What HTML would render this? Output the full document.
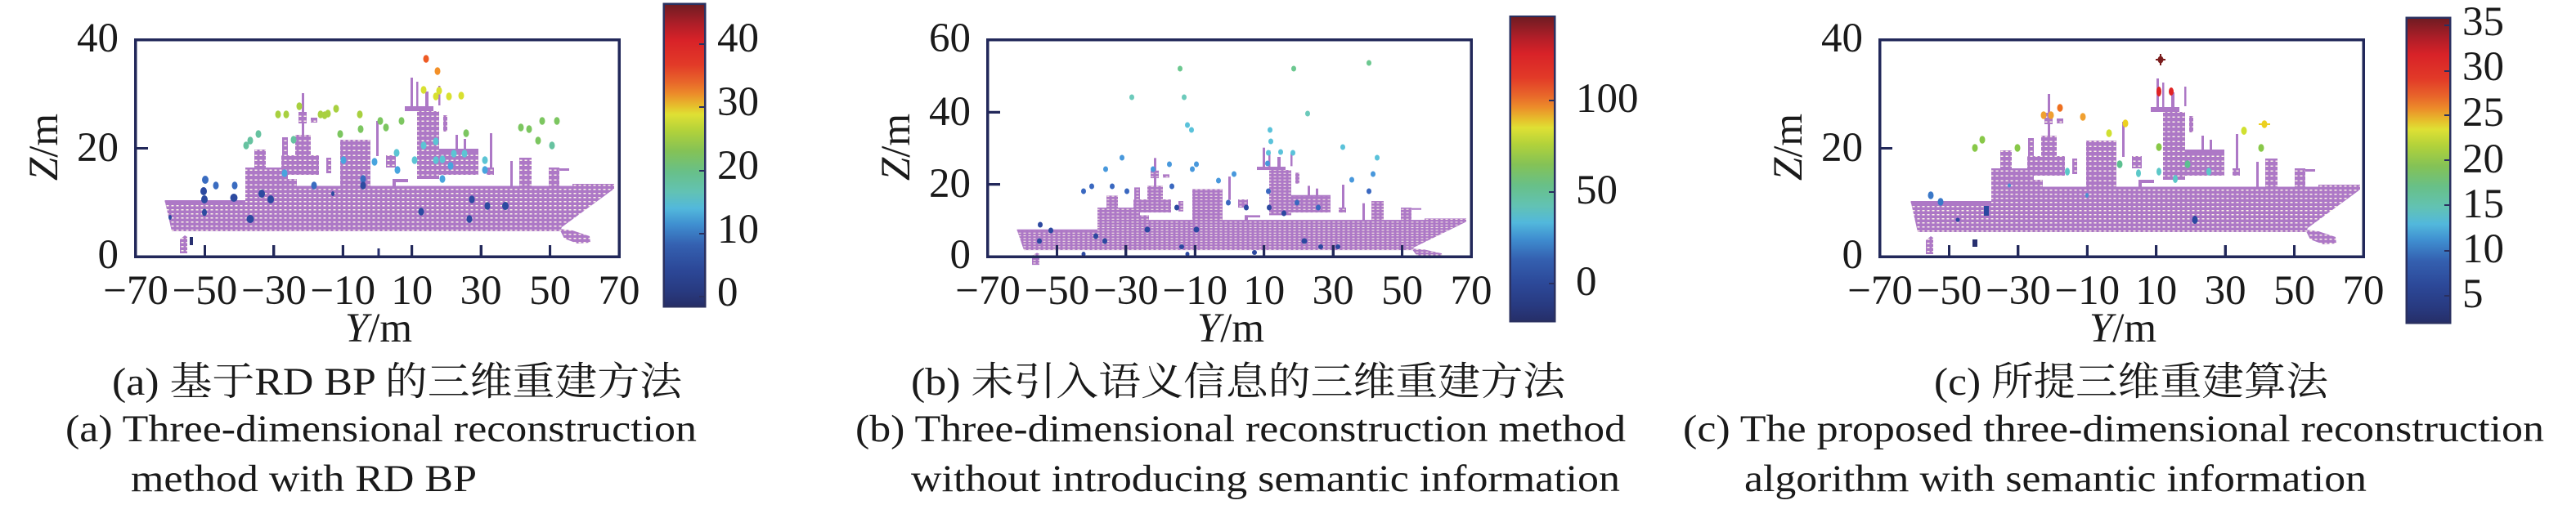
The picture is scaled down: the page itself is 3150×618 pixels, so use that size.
<!DOCTYPE html>
<html><head><meta charset="utf-8"><style>
html,body{margin:0;padding:0;background:#fff;width:3150px;height:618px;overflow:hidden}
body{position:relative}
svg{display:block;position:absolute;left:0;top:0}
.k{position:absolute;background:#22285a}
.fr{position:absolute;border:3px solid #22285a;box-sizing:border-box;background:transparent}
.cb{position:absolute;border:2px solid #2a3060;box-sizing:border-box}
</style></head><body>
<svg width="3150" height="618" viewBox="0 0 3150 618" xmlns="http://www.w3.org/2000/svg" font-family="'Liberation Serif','Noto Serif CJK SC',serif" fill="#1a1a1a">
<defs>
<pattern id="hatch" width="6" height="5" patternUnits="userSpaceOnUse"><rect width="6" height="5" fill="#ad78c6"/><rect x="1.5" y="2" width="3" height="1.5" fill="#fcf5e6"/></pattern>
<pattern id="hatch2" width="6" height="6" patternUnits="userSpaceOnUse"><rect width="6" height="6" fill="#ad78c6"/><rect x="1.5" y="2.5" width="3" height="1.5" fill="#fcf5e6"/></pattern>
<linearGradient id="cmap" x1="0" y1="0" x2="0" y2="1">
<stop offset="0" stop-color="#6e1c22"/><stop offset="0.068" stop-color="#b01e28"/><stop offset="0.12" stop-color="#d82228"/><stop offset="0.2" stop-color="#e23a28"/><stop offset="0.257" stop-color="#e8652a"/><stop offset="0.297" stop-color="#ec8c2a"/><stop offset="0.338" stop-color="#e6c02c"/><stop offset="0.365" stop-color="#dfe034"/><stop offset="0.419" stop-color="#b2d23a"/><stop offset="0.486" stop-color="#84c256"/><stop offset="0.554" stop-color="#68c088"/><stop offset="0.622" stop-color="#62c2b4"/><stop offset="0.676" stop-color="#52b8dc"/><stop offset="0.73" stop-color="#3f8ed0"/><stop offset="0.797" stop-color="#3460b0"/><stop offset="0.878" stop-color="#2c4898"/><stop offset="0.95" stop-color="#283a80"/><stop offset="1" stop-color="#262e68"/>
</linearGradient>
<g id="ship">
<polygon points="35.6,197 134,197 134,180 534,180 534,176 585,176 585,182 521,229 519,234 44,234" fill="url(#hatch)"/>
<rect x="35.6" y="196" width="98.4" height="2.5" fill="#ad78c6"/>
<rect x="134" y="178.5" width="451" height="2.5" fill="#ad78c6"/>
<polygon points="518,231 534,233 555,240 556,248 540,249 524,243" fill="url(#hatch)"/>
<polygon points="54,244 60,239 63,241 63,261 54,261" fill="url(#hatch)"/>
<rect x="134" y="156" width="52" height="24" fill="url(#hatch2)"/>
<rect x="186" y="170" width="11" height="10" fill="url(#hatch2)"/>
<rect x="145" y="134" width="14" height="22" fill="url(#hatch2)"/>
<rect x="178" y="141" width="46" height="24" fill="url(#hatch2)"/>
<rect x="179" y="119" width="7" height="22" fill="url(#hatch2)"/>
<rect x="195" y="116" width="19" height="25" fill="url(#hatch2)"/>
<rect x="203" y="65" width="3" height="54" fill="#ad78c6"/>
<rect x="199" y="88" width="10" height="14" fill="url(#hatch2)"/>
<rect x="214" y="95" width="8" height="6" fill="url(#hatch2)"/>
<rect x="233" y="144" width="6" height="19" fill="url(#hatch2)"/>
<rect x="250" y="122" width="37" height="58" fill="url(#hatch2)"/>
<rect x="294" y="99" width="3" height="43" fill="#ad78c6"/>
<rect x="306" y="141" width="12" height="15" fill="url(#hatch2)"/>
<rect x="314" y="170" width="19" height="4" fill="#ad78c6"/>
<rect x="314" y="170" width="4" height="10" fill="#ad78c6"/>
<rect x="344" y="87" width="27" height="83" fill="url(#hatch2)"/>
<rect x="329" y="81" width="35" height="6" fill="#ad78c6"/>
<rect x="336" y="46" width="3" height="39" fill="#ad78c6"/>
<rect x="343" y="51" width="2.5" height="34" fill="#ad78c6"/>
<rect x="354" y="63" width="4" height="19" fill="#ad78c6"/>
<rect x="370" y="56" width="2.5" height="24" fill="#ad78c6"/>
<rect x="376" y="92" width="5" height="20" fill="url(#hatch2)"/>
<rect x="371" y="134" width="48" height="31" fill="url(#hatch2)"/>
<rect x="371" y="133" width="48" height="3" fill="#ad78c6"/>
<rect x="391" y="116" width="3" height="20" fill="#ad78c6"/>
<rect x="401" y="121" width="3" height="15" fill="#ad78c6"/>
<rect x="433" y="114" width="3" height="51" fill="#ad78c6"/>
<rect x="429" y="156" width="9" height="9" fill="url(#hatch2)"/>
<rect x="458" y="148" width="3" height="32" fill="#ad78c6"/>
<rect x="469" y="144" width="15" height="36" fill="url(#hatch2)"/>
<rect x="505" y="156" width="13" height="24" fill="url(#hatch2)"/>
<rect x="518" y="157" width="12" height="3" fill="#ad78c6"/>
</g>
</defs>
<rect width="3150" height="618" fill="#fff"/>

<!-- PANEL A -->
<g transform="translate(166,49)">
<use href="#ship"/>
<ellipse cx="355" cy="23" rx="3.5" ry="4.8" fill="#ee5a24"/>
<ellipse cx="369" cy="38" rx="3.5" ry="4.8" fill="#f39028"/>
<g fill="#d8e030"><ellipse cx="352" cy="61" rx="3.5" ry="4.8"/><ellipse cx="371" cy="62" rx="3.5" ry="4.8"/><ellipse cx="367" cy="69" rx="3.5" ry="4.8"/><ellipse cx="383" cy="69" rx="3.5" ry="4.8"/><ellipse cx="398" cy="68" rx="3.5" ry="4.8"/></g>
<g fill="#a8d040"><ellipse cx="174" cy="91" rx="3.5" ry="4.8"/><ellipse cx="184" cy="91" rx="3.5" ry="4.8"/><ellipse cx="200" cy="81" rx="3.5" ry="4.8"/><ellipse cx="226" cy="91" rx="3.5" ry="4.8"/><ellipse cx="231" cy="92" rx="3.5" ry="4.8"/><ellipse cx="235" cy="90" rx="3.5" ry="4.8"/><ellipse cx="245" cy="84" rx="3.5" ry="4.8"/><ellipse cx="274" cy="91" rx="3.5" ry="4.8"/></g>
<g fill="#7cc660"><ellipse cx="275" cy="109" rx="3.5" ry="4.8"/><ellipse cx="299" cy="99" rx="3.5" ry="4.8"/><ellipse cx="306" cy="107" rx="3.5" ry="4.8"/><ellipse cx="325" cy="99" rx="3.5" ry="4.8"/><ellipse cx="250" cy="115" rx="3.5" ry="4.8"/><ellipse cx="471" cy="107" rx="3.5" ry="4.8"/><ellipse cx="481" cy="109" rx="3.5" ry="4.8"/><ellipse cx="497" cy="99" rx="3.5" ry="4.8"/><ellipse cx="515" cy="99" rx="3.5" ry="4.8"/><ellipse cx="492" cy="123" rx="3.5" ry="4.8"/><ellipse cx="404" cy="114" rx="3.5" ry="4.8"/></g>
<g fill="#66c2a0"><ellipse cx="135" cy="129" rx="3.5" ry="4.8"/><ellipse cx="140" cy="123" rx="3.5" ry="4.8"/><ellipse cx="150" cy="115" rx="3.5" ry="4.8"/><ellipse cx="193" cy="122" rx="3.5" ry="4.8"/><ellipse cx="509" cy="129" rx="3.5" ry="4.8"/></g>
<g fill="#5cc4d4"><ellipse cx="319" cy="138" rx="3.5" ry="4.8"/><ellipse cx="341" cy="147" rx="3.5" ry="4.8"/><ellipse cx="367" cy="147" rx="3.5" ry="4.8"/><ellipse cx="375" cy="146" rx="3.5" ry="4.8"/><ellipse cx="389" cy="139" rx="3.5" ry="4.8"/><ellipse cx="402" cy="139" rx="3.5" ry="4.8"/><ellipse cx="427" cy="147" rx="3.5" ry="4.8"/><ellipse cx="367" cy="124" rx="3.5" ry="4.8"/><ellipse cx="352" cy="129" rx="3.5" ry="4.8"/></g>
<g fill="#48a4de"><ellipse cx="254" cy="147" rx="3.5" ry="4.8"/><ellipse cx="292" cy="149" rx="3.5" ry="4.8"/><ellipse cx="182" cy="163" rx="3.5" ry="4.8"/><ellipse cx="385" cy="154" rx="3.5" ry="4.8"/><ellipse cx="320" cy="159" rx="3.5" ry="4.8"/><ellipse cx="427" cy="159" rx="3.5" ry="4.8"/><ellipse cx="375" cy="170" rx="3.5" ry="4.8"/></g>
<g fill="#3a6cc0"><ellipse cx="85" cy="171" rx="4" ry="5"/><ellipse cx="98" cy="178" rx="3.5" ry="4.8"/><ellipse cx="121" cy="178" rx="3.5" ry="4.8"/><ellipse cx="218" cy="178" rx="3.5" ry="4.8"/><ellipse cx="278" cy="170" rx="3.5" ry="4.8"/></g>
<g fill="#2c4aa0"><ellipse cx="83" cy="185" rx="4" ry="5"/><ellipse cx="84" cy="195" rx="4" ry="5"/><ellipse cx="120" cy="193" rx="4.5" ry="5"/><ellipse cx="154" cy="188" rx="4" ry="5"/><ellipse cx="165" cy="195" rx="4" ry="5"/><ellipse cx="278" cy="178" rx="3.5" ry="4.8"/><ellipse cx="241" cy="188" rx="2" ry="3"/><ellipse cx="411" cy="195" rx="3.5" ry="4.8"/><ellipse cx="430" cy="203" rx="3.5" ry="4.8"/><ellipse cx="452" cy="203" rx="4" ry="5"/><ellipse cx="349" cy="210" rx="3.5" ry="4.8"/><ellipse cx="408" cy="219" rx="3.5" ry="4.8"/><ellipse cx="140" cy="219" rx="4.5" ry="5"/><ellipse cx="84" cy="211" rx="3" ry="4.5"/><ellipse cx="42" cy="217" rx="2" ry="3"/></g>
<g fill="#283070"><rect x="295.5" y="255" width="3" height="10"/><rect x="66" y="241" width="4" height="10"/></g>
</g>
<g font-size="51" text-anchor="middle">
<text x="166" y="372">−70</text><text x="250.4" y="372">−50</text><text x="334.9" y="372">−30</text><text x="419.3" y="372">−10</text><text x="503.7" y="372">10</text><text x="588.1" y="372">30</text><text x="672.6" y="372">50</text><text x="757" y="372">70</text>
</g>
<g font-size="51" text-anchor="end">
<text x="145" y="328">0</text><text x="145" y="197">20</text><text x="145" y="63">40</text>
</g>
<text x="463" y="418" font-size="51" text-anchor="middle"><tspan font-style="italic">Y</tspan>/m</text>
<text transform="translate(70,180) rotate(-90)" font-size="51" text-anchor="middle"><tspan font-style="italic">Z</tspan>/m</text>
<rect x="812" y="5" width="50" height="370" fill="url(#cmap)"/>
<g font-size="51"><text x="877" y="63">40</text><text x="877" y="141">30</text><text x="877" y="219">20</text><text x="877" y="297">10</text><text x="877" y="374">0</text></g>
<text x="137" y="483" font-size="48" textLength="697" lengthAdjust="spacingAndGlyphs">(a) 基于RD BP 的三维重建方法</text>
<text x="80" y="540" font-size="47" textLength="772" lengthAdjust="spacingAndGlyphs">(a) Three-dimensional reconstruction</text>
<text x="160" y="601" font-size="47" textLength="423" lengthAdjust="spacingAndGlyphs">method with RD BP</text>

<!-- PANEL B -->
<g transform="translate(1208,49)">
<use href="#ship" transform="translate(0,101) scale(1,0.667)"/>
<g fill="#6cc890"><ellipse cx="235" cy="35" rx="3" ry="3.5"/><ellipse cx="374" cy="35" rx="3" ry="3.5"/><ellipse cx="466" cy="28" rx="3" ry="3.5"/></g>
<g fill="#6ccabb"><ellipse cx="176" cy="70" rx="3" ry="3.5"/><ellipse cx="240" cy="70" rx="3" ry="3.5"/><ellipse cx="391" cy="90" rx="3" ry="3.5"/></g>
<g fill="#5ac2da"><ellipse cx="244" cy="104" rx="3" ry="3.5"/><ellipse cx="249" cy="110" rx="3" ry="3.5"/><ellipse cx="345" cy="110" rx="3" ry="3.5"/><ellipse cx="346" cy="124" rx="3" ry="3.5"/><ellipse cx="434" cy="131" rx="3" ry="3.5"/><ellipse cx="476" cy="144" rx="3" ry="3.5"/><ellipse cx="343" cy="138" rx="3" ry="3.5"/><ellipse cx="358" cy="137" rx="3" ry="3.5"/><ellipse cx="373" cy="138" rx="3" ry="3.5"/></g>
<g fill="#4898dc"><ellipse cx="164" cy="144" rx="3" ry="3.5"/><ellipse cx="144" cy="158" rx="3" ry="3.5"/><ellipse cx="202" cy="158" rx="3" ry="3.5"/><ellipse cx="222" cy="152" rx="3" ry="3.5"/><ellipse cx="250" cy="158" rx="3" ry="3.5"/><ellipse cx="255" cy="152" rx="3" ry="3.5"/><ellipse cx="301" cy="164" rx="3" ry="3.5"/><ellipse cx="282" cy="172" rx="3" ry="3.5"/><ellipse cx="471" cy="164" rx="3" ry="3.5"/><ellipse cx="445" cy="171" rx="3" ry="3.5"/><ellipse cx="342" cy="151" rx="3" ry="3.5"/></g>
<g fill="#3a68c0"><ellipse cx="117" cy="185" rx="3" ry="3.5"/><ellipse cx="127" cy="179" rx="3" ry="3.5"/><ellipse cx="152" cy="179" rx="3" ry="3.5"/><ellipse cx="170" cy="185" rx="3" ry="3.5"/><ellipse cx="225" cy="179" rx="3" ry="3.5"/><ellipse cx="466" cy="185" rx="3" ry="3.5"/><ellipse cx="343" cy="185" rx="3" ry="3.5"/><ellipse cx="294" cy="199" rx="3" ry="3.5"/><ellipse cx="404" cy="205" rx="3" ry="3.5"/><ellipse cx="378" cy="199" rx="3" ry="3.5"/></g>
<g fill="#2c48a0"><ellipse cx="64" cy="226" rx="3" ry="3.5"/><ellipse cx="77" cy="233" rx="3" ry="3.5"/><ellipse cx="195" cy="232" rx="3.5" ry="3.5"/><ellipse cx="255" cy="232" rx="3.5" ry="3.5"/><ellipse cx="132" cy="240" rx="3" ry="3.5"/><ellipse cx="143" cy="246" rx="3" ry="3.5"/><ellipse cx="63" cy="246" rx="3" ry="3.5"/><ellipse cx="387" cy="246" rx="3.5" ry="3.5"/><ellipse cx="407" cy="253" rx="3" ry="3"/><ellipse cx="428" cy="253" rx="3" ry="3"/><ellipse cx="237" cy="253" rx="3" ry="3"/><ellipse cx="326" cy="260" rx="3" ry="3"/><ellipse cx="362" cy="212" rx="3" ry="3.5"/><ellipse cx="344" cy="205" rx="3" ry="3.5"/><ellipse cx="316" cy="205" rx="3" ry="3.5"/><ellipse cx="231" cy="205" rx="3" ry="3.5"/><ellipse cx="117" cy="262" rx="2.5" ry="3"/><ellipse cx="244" cy="262" rx="2.5" ry="3"/></g>
</g>
<g font-size="51" text-anchor="middle">
<text x="1208" y="372">−70</text><text x="1292.4" y="372">−50</text><text x="1376.9" y="372">−30</text><text x="1461.3" y="372">−10</text><text x="1545.7" y="372">10</text><text x="1630.1" y="372">30</text><text x="1714.6" y="372">50</text><text x="1799" y="372">70</text>
</g>
<g font-size="51" text-anchor="end">
<text x="1187" y="328">0</text><text x="1187" y="241">20</text><text x="1187" y="153">40</text><text x="1187" y="63">60</text>
</g>
<text x="1505" y="418" font-size="51" text-anchor="middle"><tspan font-style="italic">Y</tspan>/m</text>
<text transform="translate(1112,180) rotate(-90)" font-size="51" text-anchor="middle"><tspan font-style="italic">Z</tspan>/m</text>
<rect x="1847" y="20.5" width="54" height="372.5" fill="url(#cmap)"/>
<g font-size="51"><text x="1927" y="137">100</text><text x="1927" y="249">50</text><text x="1927" y="361">0</text></g>
<text x="1114" y="483" font-size="48" textLength="800" lengthAdjust="spacingAndGlyphs">(b) 未引入语义信息的三维重建方法</text>
<text x="1046" y="540" font-size="47" textLength="942" lengthAdjust="spacingAndGlyphs">(b) Three-dimensional reconstruction method</text>
<text x="1114" y="601" font-size="47" textLength="867" lengthAdjust="spacingAndGlyphs">without introducing semantic information</text>

<!-- PANEL C -->
<g transform="translate(2299,49)">
<use href="#ship" transform="translate(2,1)"/>
<g fill="#7a1c1c"><ellipse cx="343" cy="24" rx="3.5" ry="4.5"/><rect x="337" y="23" width="12" height="2"/><rect x="342" y="17" width="2" height="14"/></g>
<g fill="#e02424"><ellipse cx="341" cy="63" rx="3" ry="6"/><ellipse cx="356" cy="63" rx="3" ry="5"/></g>
<ellipse cx="220" cy="83" rx="3.5" ry="4.8" fill="#ee7020"/>
<g fill="#f0a030"><ellipse cx="200" cy="92" rx="3.5" ry="4.8"/><ellipse cx="209" cy="92" rx="3.5" ry="4.8"/><ellipse cx="248" cy="94" rx="3.5" ry="4.8"/></g>
<g fill="#ecd020"><ellipse cx="300" cy="102" rx="3.5" ry="4.8"/><ellipse cx="470" cy="103" rx="3.5" ry="4.8"/><rect x="463" y="102" width="14" height="2"/></g>
<g fill="#d0e030"><ellipse cx="280" cy="114" rx="3.5" ry="4.8"/><ellipse cx="445" cy="111" rx="3.5" ry="5"/></g>
<g fill="#88c848"><ellipse cx="116" cy="132" rx="3.5" ry="4.8"/><ellipse cx="125" cy="122" rx="3.5" ry="4.8"/><ellipse cx="168" cy="132" rx="3.5" ry="4.8"/><ellipse cx="341" cy="131" rx="3.5" ry="4.8"/><ellipse cx="466" cy="132" rx="3.5" ry="4.8"/></g>
<g fill="#5cc090"><ellipse cx="293" cy="152" rx="3.5" ry="4.8"/><ellipse cx="376" cy="152" rx="3.5" ry="4.8"/></g>
<g fill="#5cc8c8"><ellipse cx="229" cy="161" rx="3" ry="4.8"/><ellipse cx="316" cy="163" rx="3" ry="4.8"/><ellipse cx="341" cy="161" rx="3" ry="4.8"/><ellipse cx="361" cy="170" rx="3" ry="5"/><ellipse cx="402" cy="161" rx="3" ry="4.8"/></g>
<g fill="#3a78c8"><ellipse cx="62" cy="190" rx="3.5" ry="4.8"/><ellipse cx="74" cy="198" rx="3.5" ry="4.8"/></g>
<g fill="#4a90d0"><ellipse cx="158" cy="178" rx="2" ry="2.5"/><ellipse cx="253" cy="190" rx="2" ry="3"/></g>
<g fill="#2a48a0"><rect x="127" y="203" width="6" height="12"/><ellipse cx="95" cy="220" rx="2.5" ry="2.5"/><ellipse cx="385" cy="220" rx="3.5" ry="5"/></g>
<rect x="113" y="244" width="6" height="9" fill="#283070"/>
</g>
<g font-size="51" text-anchor="middle">
<text x="2299" y="372">−70</text><text x="2383.4" y="372">−50</text><text x="2467.9" y="372">−30</text><text x="2552.3" y="372">−10</text><text x="2636.7" y="372">10</text><text x="2721.1" y="372">30</text><text x="2805.6" y="372">50</text><text x="2890" y="372">70</text>
</g>
<g font-size="51" text-anchor="end">
<text x="2278" y="328">0</text><text x="2278" y="197">20</text><text x="2278" y="63">40</text>
</g>
<text x="2596" y="418" font-size="51" text-anchor="middle"><tspan font-style="italic">Y</tspan>/m</text>
<text transform="translate(2203,180) rotate(-90)" font-size="51" text-anchor="middle"><tspan font-style="italic">Z</tspan>/m</text>
<rect x="2943" y="22" width="53" height="373" fill="url(#cmap)"/>
<g font-size="51"><text x="3011" y="43">35</text><text x="3011" y="98">30</text><text x="3011" y="154">25</text><text x="3011" y="211">20</text><text x="3011" y="266">15</text><text x="3011" y="321">10</text><text x="3011" y="376">5</text></g>
<text x="2365" y="483" font-size="48" textLength="482" lengthAdjust="spacingAndGlyphs">(c) 所提三维重建算法</text>
<text x="2058" y="540" font-size="47" textLength="1053" lengthAdjust="spacingAndGlyphs">(c) The proposed three-dimensional reconstruction</text>
<text x="2133" y="601" font-size="47" textLength="761" lengthAdjust="spacingAndGlyphs">algorithm with semantic information</text>

<!-- frames + ticks -->
<path fill="#22285a" fill-rule="evenodd" d="M164.5,47.5H758.5V315.5H164.5Z M167.5,50.5V312.5H755.5V50.5Z M1206.5,47.5H1800.5V315.5H1206.5Z M1209.5,50.5V312.5H1797.5V50.5Z M2297.5,47.5H2891.5V315.5H2297.5Z M2300.5,50.5V312.5H2888.5V50.5Z"/>
<path fill="#22285a" d="M249,300h3v13h-3Z M333.4,300h3v13h-3Z M417.8,300h3v13h-3Z M502.2,300h3v13h-3Z M586.6,300h3v13h-3Z M671.1,300h3v13h-3Z M166,180h15v3h-15Z M1291,300h3v13h-3Z M1375.4,300h3v13h-3Z M1459.8,300h3v13h-3Z M1544.2,300h3v13h-3Z M1628.6,300h3v13h-3Z M1713.1,300h3v13h-3Z M1208,224.2h15v3h-15Z M1208,135.8h15v3h-15Z M2382,300h3v13h-3Z M2466.4,300h3v13h-3Z M2550.8,300h3v13h-3Z M2635.2,300h3v13h-3Z M2719.6,300h3v13h-3Z M2804.1,300h3v13h-3Z M2299,180h15v3h-15Z"/>
<path fill="#2a3060" fill-rule="evenodd" d="M810.5,3.5H863.5V376.5H810.5Z M812,5V375H862V5Z M1845.5,19H1902.5V394.5H1845.5Z M1847,20.5V393H1901V20.5Z M2941.5,20.5H2997.5V396.5H2941.5Z M2943,22V395H2996V22Z"/>
<path fill="#2a3060" d="M855,53h7v2h-7Z M855,130h7v2h-7Z M855,208h7v2h-7Z M855,285h7v2h-7Z M855,362h7v2h-7Z M1894,122h7v2h-7Z M1894,234h7v2h-7Z M1894,346h7v2h-7Z M2989,30h7v2h-7Z M2989,86h7v2h-7Z M2989,140h7v2h-7Z M2989,195h7v2h-7Z M2989,250h7v2h-7Z M2989,306h7v2h-7Z M2989,361h7v2h-7Z"/>
</svg>

<div class="fr" style="left:164px;top:47px;width:595px;height:269px"></div>
<div class="fr" style="left:1206px;top:47px;width:595px;height:269px"></div>
<div class="fr" style="left:2297px;top:47px;width:595px;height:269px"></div>
<div class="k" style="left:249px;top:300px;width:3px;height:13px"></div>
<div class="k" style="left:333px;top:300px;width:3px;height:13px"></div>
<div class="k" style="left:418px;top:300px;width:3px;height:13px"></div>
<div class="k" style="left:502px;top:300px;width:3px;height:13px"></div>
<div class="k" style="left:587px;top:300px;width:3px;height:13px"></div>
<div class="k" style="left:671px;top:300px;width:3px;height:13px"></div>
<div class="k" style="left:166px;top:180px;width:15px;height:3px"></div>
<div class="k" style="left:1291px;top:300px;width:3px;height:13px"></div>
<div class="k" style="left:1375px;top:300px;width:3px;height:13px"></div>
<div class="k" style="left:1460px;top:300px;width:3px;height:13px"></div>
<div class="k" style="left:1544px;top:300px;width:3px;height:13px"></div>
<div class="k" style="left:1629px;top:300px;width:3px;height:13px"></div>
<div class="k" style="left:1713px;top:300px;width:3px;height:13px"></div>
<div class="k" style="left:1208px;top:224px;width:15px;height:3px"></div>
<div class="k" style="left:1208px;top:136px;width:15px;height:3px"></div>
<div class="k" style="left:2382px;top:300px;width:3px;height:13px"></div>
<div class="k" style="left:2466px;top:300px;width:3px;height:13px"></div>
<div class="k" style="left:2551px;top:300px;width:3px;height:13px"></div>
<div class="k" style="left:2635px;top:300px;width:3px;height:13px"></div>
<div class="k" style="left:2720px;top:300px;width:3px;height:13px"></div>
<div class="k" style="left:2804px;top:300px;width:3px;height:13px"></div>
<div class="k" style="left:2299px;top:180px;width:15px;height:3px"></div>
<div class="cb" style="left:811px;top:4px;width:52px;height:372px"></div>
<div class="cb" style="left:1846px;top:19px;width:56px;height:375px"></div>
<div class="cb" style="left:2942px;top:21px;width:55px;height:375px"></div>
</body></html>
